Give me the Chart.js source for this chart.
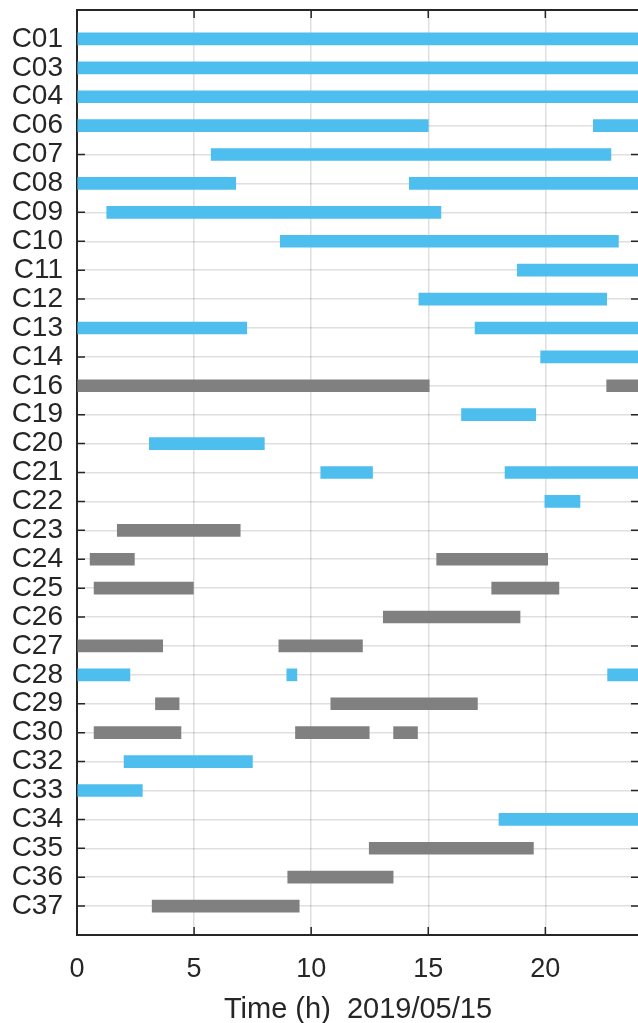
<!DOCTYPE html>
<html>
<head>
<meta charset="utf-8">
<script src="https://cdn.jsdelivr.net/npm/chart.js@4"></script>
<style>
  html, body { margin: 0; padding: 0; background: #ffffff; overflow: hidden; }
  #wrap { width: 650px; height: 1023px; }
</style>
</head>
<body>
<div id="wrap"><canvas id="chart" width="650" height="1023"></canvas></div>
<script>
// Channel names, top to bottom
const categories = ['C01','C03','C04','C06','C07','C08','C09','C10','C11','C12',
  'C13','C14','C16','C19','C20','C21','C22','C23','C24','C25','C26','C27','C28',
  'C29','C30','C32','C33','C34','C35','C36','C37'];

// Active intervals (hours) — [channel, start, end]
const blueSpans = [
  ['C01', 0, 24], ['C03', 0, 24], ['C04', 0, 24],
  ['C06', 0, 15.0], ['C06', 22.05, 24],
  ['C07', 5.73, 22.8],
  ['C08', 0, 6.78], ['C08', 14.19, 24],
  ['C09', 1.27, 15.54],
  ['C10', 8.68, 23.12],
  ['C11', 18.8, 24],
  ['C12', 14.6, 22.62],
  ['C13', 0, 7.25], ['C13', 17.0, 24],
  ['C14', 19.8, 24],
  ['C19', 16.42, 19.59],
  ['C20', 3.09, 8.0],
  ['C21', 10.41, 12.62], ['C21', 18.28, 24],
  ['C22', 19.98, 21.48],
  ['C28', 0, 2.26], ['C28', 8.96, 9.39], ['C28', 22.66, 24],
  ['C32', 2.01, 7.49],
  ['C33', 0, 2.79],
  ['C34', 18.02, 24]
];

const graySpans = [
  ['C16', 0, 15.04], ['C16', 22.62, 24],
  ['C23', 1.72, 6.97],
  ['C24', 0.56, 2.45], ['C24', 15.36, 20.1],
  ['C25', 0.73, 4.97], ['C25', 17.71, 20.58],
  ['C26', 13.08, 18.92],
  ['C27', 0, 3.66], ['C27', 8.62, 12.19],
  ['C29', 3.35, 4.36], ['C29', 10.84, 17.1],
  ['C30', 0.73, 4.44], ['C30', 9.33, 12.48], ['C30', 13.52, 14.54],
  ['C35', 12.48, 19.49],
  ['C36', 9.0, 13.5],
  ['C37', 3.21, 9.49]
];

const xTicks = [0, 5, 10, 15, 20];
const xMax = 24;

const toBars = spans => spans.map(([c, s, e]) => ({ y: categories.indexOf(c) + 1, x: [s, e] }));

const AXIS_COLOR = '#262626';
const GRID_COLOR = 'rgba(38,38,38,0.15)';
const FONT = '"Liberation Sans", Arial, Helvetica, sans-serif';

// Inward tick marks and the top/right box edges, drawn under the bars
const boxTicks = {
  id: 'boxTicks',
  beforeDatasetsDraw(chart) {
    const { ctx, chartArea: a, scales } = chart;
    const len = 8;
    ctx.save();
    ctx.strokeStyle = AXIS_COLOR;
    ctx.lineWidth = 1.5;
    ctx.beginPath();
    categories.forEach((c, i) => {
      const py = scales.y.getPixelForValue(i + 1);
      ctx.moveTo(a.left, py); ctx.lineTo(a.left + len, py);
      ctx.moveTo(a.right, py); ctx.lineTo(a.right - len, py);
    });
    xTicks.forEach(v => {
      if (v === 0) return;
      const px = scales.x.getPixelForValue(v);
      ctx.moveTo(px, a.bottom); ctx.lineTo(px, a.bottom - len);
      ctx.moveTo(px, a.top); ctx.lineTo(px, a.top + len);
    });
    ctx.stroke();
    ctx.lineWidth = 2;
    ctx.beginPath();
    ctx.moveTo(a.left, a.top); ctx.lineTo(a.right, a.top);
    ctx.lineTo(a.right, a.bottom);
    ctx.stroke();
    ctx.restore();
  }
};

new Chart(document.getElementById('chart'), {
  type: 'bar',
  data: {
    datasets: [
      { label: 'blue', data: toBars(blueSpans), backgroundColor: '#4DBEEE', grouped: false, barThickness: 12, borderSkipped: false },
      { label: 'gray', data: toBars(graySpans), backgroundColor: '#808080', grouped: false, barThickness: 12, borderSkipped: false }
    ]
  },
  options: {
    indexAxis: 'y',
    responsive: false,
    animation: false,
    devicePixelRatio: 1,
    layout: { padding: { top: 10, right: 11, left: 0, bottom: 0 } },
    plugins: { legend: { display: false }, tooltip: { enabled: false } },
    scales: {
      x: {
        type: 'linear',
        min: 0, max: xMax,
        afterFit: s => { s.height = 88; s.paddingLeft = 0; s.paddingRight = 0; },
        ticks: {
          stepSize: 5, includeBounds: false,
          color: AXIS_COLOR, padding: 18,
          font: { family: FONT, size: 27 }
        },
        grid: { color: GRID_COLOR, lineWidth: 1.5, drawTicks: false },
        border: { display: true, color: AXIS_COLOR, width: 2 },
        title: {
          display: true, text: 'Time (h)  2019/05/15',
          color: AXIS_COLOR, padding: { top: 0, bottom: -4 },
          font: { family: FONT, size: 29 }
        }
      },
      y: {
        type: 'linear',
        offset: false,
        min: 0, max: categories.length + 1,
        reverse: true,
        afterFit: s => { s.width = 77; s.paddingTop = 0; s.paddingBottom = 0; },
        afterBuildTicks: s => {
          s.ticks = Array.from({ length: categories.length + 2 }, (_, i) => ({ value: i }));
        },
        ticks: {
          autoSkip: false,
          color: AXIS_COLOR, padding: 14,
          font: { family: FONT, size: 28 },
          callback: v => categories[v - 1] || ''
        },
        grid: {
          offset: false,
          drawTicks: false, lineWidth: 1.5,
          color: c => (c.tick && (c.tick.value === 0 || c.tick.value === categories.length + 1)) ? 'rgba(0,0,0,0)' : GRID_COLOR
        },
        border: { display: true, color: AXIS_COLOR, width: 2 }
      }
    }
  },
  plugins: [boxTicks]
});
</script>
</body>
</html>
